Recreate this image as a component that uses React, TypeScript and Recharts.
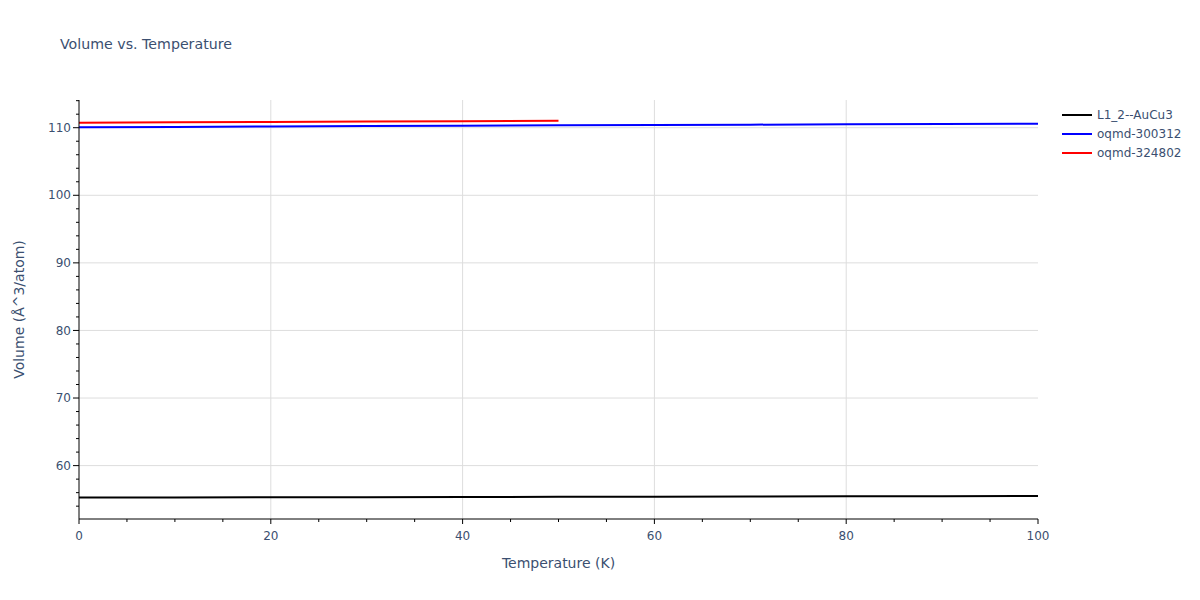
import React from 'react';
import { LineChart, Line, XAxis, YAxis, CartesianGrid } from 'recharts';

// Volume vs. Temperature
const TEMPS = [0, 10, 20, 30, 40, 50, 60, 70, 80, 90, 100];
const AUCU3 = [55.27, 55.29, 55.31, 55.33, 55.36, 55.38, 55.4, 55.42, 55.45, 55.47, 55.5];
const OQMD_300312 = [110.06, 110.12, 110.18, 110.24, 110.3, 110.35, 110.4, 110.45, 110.5, 110.55, 110.6];
const OQMD_324802 = [110.74, 110.8, 110.86, 110.91, 110.97, 111.03];

const SERIES = [
  { key: 'aucu3', name: 'L1_2--AuCu3', color: '#000000' },
  { key: 'o300312', name: 'oqmd-300312', color: '#0000ff' },
  { key: 'o324802', name: 'oqmd-324802', color: '#ff0000' },
];

const X_MAJOR = [0, 20, 40, 60, 80, 100];
const X_MINOR = [0, 5, 10, 15, 20, 25, 30, 35, 40, 45, 50, 55, 60, 65, 70, 75, 80, 85, 90, 95, 100];
const Y_MAJOR = [60, 70, 80, 90, 100, 110];
const Y_MINOR = [54, 56, 58, 60, 62, 64, 66, 68, 70, 72, 74, 76, 78, 80, 82, 84, 86, 88, 90, 92, 94, 96, 98, 100, 102, 104, 106, 108, 110, 112, 114];

const data = TEMPS.map((t, i) => ({
  t,
  aucu3: AUCU3[i],
  o300312: OQMD_300312[i],
  o324802: i < OQMD_324802.length ? OQMD_324802[i] : null,
}));

const FONT = '"DejaVu Sans", Verdana, sans-serif';
const TEXT = '#3b4f70';

function XTick(props: any) {
  const { x, y, payload } = props;
  const major = X_MAJOR.includes(payload.value);
  const len = major ? 5 : 3;
  return (
    <g>
      <line x1={x} x2={x} y1={y} y2={y + len} stroke="#000" />
      {major && (
        <text x={x} y={y + 21} textAnchor="middle" fontSize={12} fill={TEXT} fontFamily={FONT}>
          {payload.value}
        </text>
      )}
    </g>
  );
}

function YTick(props: any) {
  const { x, y, payload } = props;
  const major = Y_MAJOR.includes(payload.value);
  const len = major ? 6 : 3;
  return (
    <g>
      <line x1={x} x2={x - len} y1={y} y2={y} stroke="#000" />
      {major && (
        <text x={x - len - 2} y={y} dy="0.35em" textAnchor="end" fontSize={12} fill={TEXT} fontFamily={FONT}>
          {payload.value}
        </text>
      )}
    </g>
  );
}

function XTitle(props: any) {
  const vb = props.viewBox;
  return (
    <text x={vb.x + vb.width / 2} y={568} textAnchor="middle" fontSize={14} fill={TEXT} fontFamily={FONT}>
      Temperature (K)
    </text>
  );
}

function YTitle(props: any) {
  const vb = props.viewBox;
  const cx = vb.x + 19;
  const cy = vb.y + vb.height / 2;
  return (
    <text x={cx} y={cy} transform={`rotate(-90, ${cx}, ${cy})`} textAnchor="middle" dominantBaseline="central"
      fontSize={14} fill={TEXT} fontFamily={FONT}>
      Volume (Å^3/atom)
    </text>
  );
}

export default function App() {
  return (
    <div style={{ position: 'absolute', left: 0, top: 0, width: 1200, height: 600, background: '#fff', fontFamily: FONT }}>
      <div style={{ position: 'absolute', left: 60, top: 36, fontSize: 14.2, color: TEXT, whiteSpace: 'nowrap' }}>
        Volume vs. Temperature
      </div>

      <LineChart width={1200} height={600} data={data} margin={{ top: 100, right: 162, bottom: 0, left: 0 }}>
        <CartesianGrid stroke="#dddddd" horizontalValues={Y_MAJOR} verticalValues={[20, 40, 60, 80]} />
        <XAxis dataKey="t" type="number" domain={[0, 100]} ticks={X_MINOR} interval={0} height={81}
          tickSize={0} tickMargin={0} tickLine={false} tick={<XTick />} axisLine={{ stroke: '#000' }}
          label={<XTitle />} />
        <YAxis type="number" domain={[52.1, 114.1]} ticks={Y_MINOR} interval={0} width={79}
          tickSize={0} tickMargin={0} tickLine={false} tick={<YTick />} axisLine={{ stroke: '#000' }}
          allowDataOverflow label={<YTitle />} />
        {SERIES.map(s => (
          <Line key={s.key} dataKey={s.key} name={s.name} type="linear" stroke={s.color} strokeWidth={2}
            dot={false} activeDot={false} isAnimationActive={false} connectNulls={false} />
        ))}
      </LineChart>

      <div style={{ position: 'absolute', left: 1062, top: 105 }}>
        {SERIES.map(s => (
          <div key={s.key} style={{ display: 'flex', alignItems: 'center', height: 19 }}>
            <div style={{ width: 30, height: 2, background: s.color }} />
            <span style={{ marginLeft: 5, fontSize: 12, color: TEXT, whiteSpace: 'nowrap' }}>{s.name}</span>
          </div>
        ))}
      </div>
    </div>
  );
}
